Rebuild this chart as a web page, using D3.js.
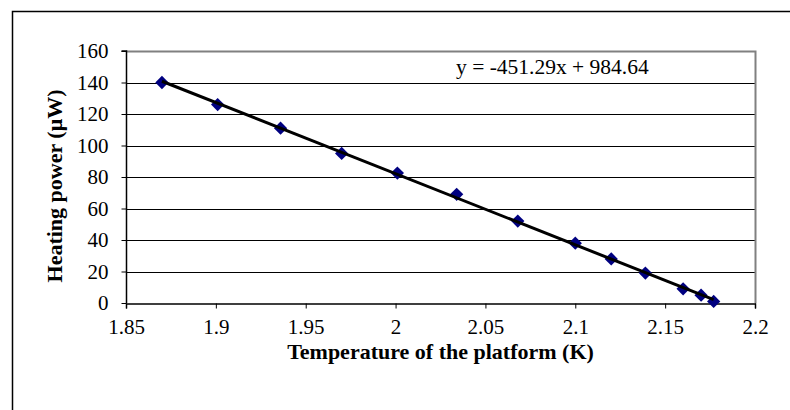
<!DOCTYPE html>
<html>
<head>
<meta charset="utf-8">
<script src="https://cdn.jsdelivr.net/npm/d3@7"></script>
<style>
  body { margin: 0; background: #fff; }
  svg { display: block; }
  svg text { font-family: "Liberation Serif", "Times New Roman", serif !important; fill: #000; }
</style>
</head>
<body>
<svg id="chart" width="790" height="410"></svg>
<script>
// platform temperature (K) vs heating power (uW)
var temps = [1.87, 1.901, 1.936, 1.97, 2.001, 2.034, 2.068, 2.1, 2.12, 2.139, 2.16, 2.17, 2.177];
var powers = [140, 126, 111, 95, 82.5, 69, 52, 38, 28, 19, 9, 5, 1];
var xTicks = [1.85, 1.9, 1.95, 2, 2.05, 2.1, 2.15, 2.2];
var yTicks = [0, 20, 40, 60, 80, 100, 120, 140, 160];
var fitLabel = "y = -451.29x + 984.64";

var svg = d3.select("#chart"),
  pLeft = 126, pRight = 755, pTop = 51, pBottom = 303;

var x = d3.scaleLinear().domain([1.85, 2.2]).range([pLeft, pRight]),
  y = d3.scaleLinear().domain([0, 160]).range([pBottom, pTop]);

// outer chart frame (runs off the right and bottom edge)
svg.append("rect")
  .attr("x", 12.5).attr("y", 11.5)
  .attr("width", 820).attr("height", 420)
  .attr("fill", "none").attr("stroke", "#000").attr("stroke-width", 1.5);

// gridlines
svg.append("g")
  .selectAll("line")
  .data(yTicks.slice(1, -1))
  .join("line")
  .attr("x1", pLeft).attr("x2", pRight)
  .attr("y1", function(d) { return Math.round(y(d)) + 0.5; })
  .attr("y2", function(d) { return Math.round(y(d)) + 0.5; })
  .attr("stroke", "#000").attr("stroke-width", 1);

// plot area top and right edge in gray
svg.append("path")
  .attr("d", "M" + pLeft + "," + (pTop + 0.5) + "H" + (pRight + 0.5) + "V" + pBottom)
  .attr("fill", "none").attr("stroke", "#808080").attr("stroke-width", 2);

var xAxis = svg.append("g")
  .attr("transform", "translate(0," + (pBottom + 0.5) + ")")
  .call(d3.axisBottom(x).tickValues(xTicks).tickSize(5).tickPadding(11)
    .tickFormat(function(d) { return String(+d.toFixed(2)); }));

var yAxis = svg.append("g")
  .attr("transform", "translate(" + (pLeft + 0.5) + ",0)")
  .call(d3.axisLeft(y).tickValues(yTicks).tickSize(5).tickPadding(13));

[xAxis, yAxis].forEach(function(g) {
  g.select(".domain").attr("stroke", "#000").attr("stroke-width", 1.5);
  g.selectAll(".tick line").attr("stroke", "#000");
  g.selectAll(".tick text").style("font-size", "21px");
});
yAxis.select(".domain").attr("d", "M-5," + pTop + "H0V" + pBottom);

// markers
svg.append("g")
  .selectAll("path")
  .data(temps)
  .join("path")
  .attr("d", d3.symbol(d3.symbolSquare, 88))
  .attr("transform", function(d, i) {
    return "translate(" + x(d) + "," + y(powers[i]) + ") rotate(45)";
  })
  .attr("fill", "#000080");

// least squares trend line
var mx = d3.mean(temps), my = d3.mean(powers),
  sxy = d3.sum(temps, function(d, i) { return (d - mx) * (powers[i] - my); }),
  sxx = d3.sum(temps, function(d) { return (d - mx) * (d - mx); }),
  slope = sxy / sxx, icpt = my - slope * mx,
  ext = d3.extent(temps);

svg.append("line")
  .attr("x1", x(ext[0])).attr("y1", y(slope * ext[0] + icpt))
  .attr("x2", x(ext[1])).attr("y2", y(slope * ext[1] + icpt))
  .attr("stroke", "#000").attr("stroke-width", 3);

svg.append("text")
  .attr("x", 456).attr("y", 74)
  .style("font-size", "21.5px")
  .text(fitLabel);

// axis titles
svg.append("text")
  .attr("x", (pLeft + pRight) / 2).attr("y", 359)
  .attr("text-anchor", "middle")
  .style("font-size", "22px").style("font-weight", "bold")
  .text("Temperature of the platform (K)");

svg.append("text")
  .attr("transform", "translate(62,186) rotate(-90)")
  .attr("text-anchor", "middle")
  .style("font-size", "22px").style("font-weight", "bold")
  .text("Heating power (\u03bcW)");
</script>
</body>
</html>
